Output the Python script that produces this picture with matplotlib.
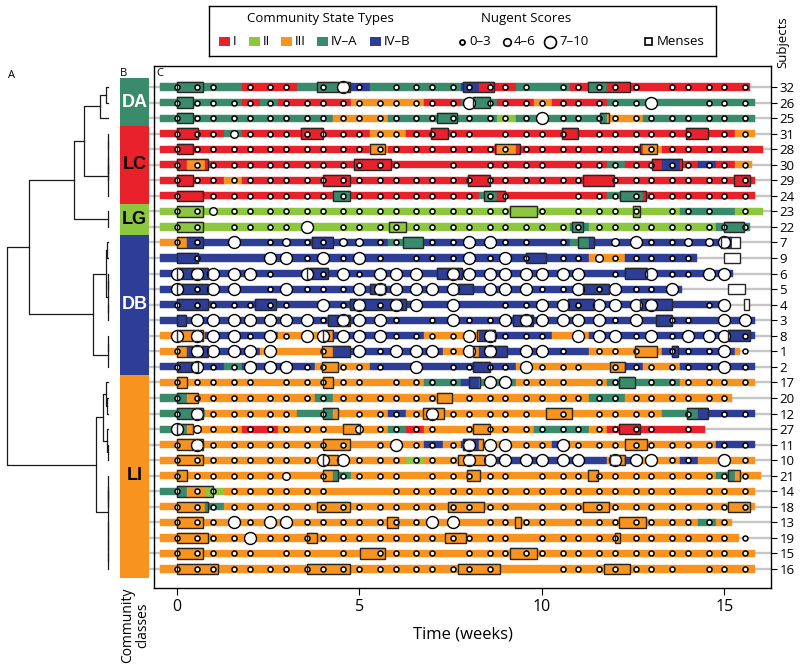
import matplotlib
matplotlib.use("Agg")
import matplotlib.pyplot as plt
from matplotlib.patches import Rectangle

plt.rcParams['font.family'] = ['Open Sans', 'DejaVu Sans']

# -------------------------------------------------------------------
# DATA
# -------------------------------------------------------------------
cst_colors = {'1': '#e8212b', '2': '#8dc63f', '3': '#f7931e', 'A': '#3a8a6c', 'B': '#2e3d96'}
cst_keys = ['1', '2', '3', 'A', 'B']
cst_names = ['I', 'II', 'III', 'IV\u2013A', 'IV\u2013B']

# twice-weekly visits (weeks)
visit_weeks = [0, 0.57, 1, 1.57, 2, 2.57, 3, 3.57, 4, 4.57, 5, 5.57, 6, 6.57, 7, 7.57,
               8, 8.57, 9, 9.57, 10, 10.57, 11, 11.57, 12, 12.57, 13, 13.57, 14, 14.57, 15, 15.57]

subjects = [32, 26, 25, 31, 28, 30, 29, 24, 23, 22, 7, 9, 6, 5, 4, 3, 8, 1, 2,
            17, 20, 12, 27, 11, 10, 21, 14, 18, 13, 19, 15, 16]

# community state type at each visit (1=I, 2=II, 3=III, A=IV-A, B=IV-B)
cst_calls = [
    "AAAA111A" "AABAAAAA" "B11AAA1A" "11111111",   # 32
    "AAAA1A11" "11333311" "AA113111" "AAAAAAAA",   # 26
    "AAAAAAAA" "A333AAAA" "AA2AAAAA" "33AAAAAA",   # 25
    "111A1111" "11133111" "11111111" "11111113",   # 31
    "11111111" "11131111" "11311111" "11311111",   # 28
    "13111111" "11111111" "11111111" "A11B1B13",   # 30
    "11131111" "11111111" "11111111" "11111111",   # 29
    "11111111" "1A111111" "1A111111" "AA111111",   # 24
    "22222222" "22222222" "22222222" "2222AAA2",   # 23
    "22222222" "22222222" "222222A2" "222222AA",   # 22
    "3BBBBBBB" "BBBBAABB" "BBBBBBAB" "BBBBBBBB",   # 7
    "BBBBBBBB" "BBBBBBBB" "BBBBBBB3" "3BBBBBBB",   # 9
    "BBBBBBBB" "BBBBBBBB" "BBBBBBBB" "BBBBBBBB",   # 6
    "BBBBBBBB" "BBBBBBBB" "BBBBBBBB" "BBBBBBBB",   # 5
    "BBBBBBBB" "BBBBBBBB" "BBBBBBBB" "BBBBBBBB",   # 4
    "BBBBBBBB" "BBBBBBBB" "BBBBBBBB" "BBBBBBBB",   # 3
    "33BBBB33" "3BBBBB33" "3BBBB33B" "BBBBBBBB",   # 8
    "3BBBB333" "3BBBBBB3" "3BBBBBB3" "333BBBB3",   # 1
    "BBBABBBB" "333BBBBB" "BBB33333" "3B33BBBB",   # 2
    "33333333" "333333AA" "BAA33333" "AAAA3333",   # 17
    "A3333333" "A3333333" "3333333A" "A3333333",   # 20
    "AA33333A" "A333B333" "33333333" "333AABBB",   # 12
    "A3331133" "3333A133" "3333AAA3" "11111111",   # 27
    "33333333" "333333B3" "B3333B33" "333333BB",   # 11
    "33333333" "33333233" "33BBBBBB" "3B33B333",   # 10
    "33333333" "3A333333" "33333333" "333333A3",   # 21
    "A3233333" "33333333" "33333333" "33333333",   # 14
    "33A33333" "33333333" "33333333" "33333333",   # 18
    "33333333" "33333333" "33333333" "33333A33",   # 13
    "33333333" "33333333" "33333333" "33333333",   # 19
    "33333333" "33333333" "33333333" "33333333",   # 15
    "33333333" "33333333" "33333333" "33333333",   # 16
]

# Nugent score at each visit: o = 0-3, m = 4-6, O = 7-10, . = no sample
nugent_calls = [
    "ooo.ooo." "oOo.oooo" "oooo.ooo" "oo.ooooo",   # 32
    "oooooooo" "oooooooo" "Oooooooo" "ooO..ooo",   # 26
    "oooooooo" "oooooooo" "ooooOooo" "oooooooo",   # 25
    "ooomoooo" "oooooooo" "o.oooo.o" "ooooo.oo",   # 31
    "oooooooo" "oooooooo" "oooooooo" "oooooooo",   # 28
    "oooooooo" "ooooo..o" ".oooo.oo" "oooooooo",   # 30
    "oooooooo" "oooooooo" "ooooooo." "oooooooo",   # 29
    "o.oooooo" "oooooooo" "ooo...oo" "oooooooo",   # 24
    "oomooooo" "oooooooo" "ooo.o.oo" "oo.ooo.o",   # 23
    "oo.ooooO" ".ooooooo" "oooooooo" "oooooooo",   # 22
    "oo.O.omo" "ommoo.oo" "OOoo.o.." "mOoommO.",   # 7
    ".o...OOo" "OoOo.ooo" "OoOo.oom" "ooooo...",   # 9
    "OOOOOo.O" "oOoOOO.O" "OOOOOOO." "o.OooOO.",   # 6
    "OoOO.oOo" "ooOOOOOO" ".OOOooOo" "OooO....",   # 5
    "ooooooo." "OoOoOO.O" "..ooOOoO" "OOO..oO.",   # 4
    ".OOOOOOO" "oOOOo.oO" "ooOOOOOO" "oO.oo.OO",   # 3
    "OOOOoOoO" "OOOOoooo" "OOooo.OO" "OoOoOOOo",   # 8
    "oOOOOO.." "o.OoOOOo" "OO.OOo.o" "oo.oooOo",   # 1
    "oOooOOOo" "oooo.O.o" "oooOooo." "ooooooOo",   # 2
    "ooooo.oo" "ooo.oooo" ".OOooo.o" "o.oooooo",   # 17
    "oooooooo" "ooooooo." "oooooooo" "ooooooo.",   # 20
    "oOooooo." "o.ooooOo" "oooo.o.o" "ooo.o.oo",   # 12
    "Omoooooo" "o.moooo." "oooooooo" "ooo.o...",   # 27
    "oOoooooo" "oo.oOooo" "OOOooOoo" "oooooooo",   # 11
    "oooooooo" "OOoooooo" "OOOOOOO." "OOOoo.Oo",   # 10
    "oooooom." "ooooo.oo" "ooo.oooo" "oooooooo",   # 21
    "oooooooo" "o...oooo" "oooooooo" "oooo.ooo",   # 14
    "oooooooo" "oooooooo" "ooo.oooo" "oooooooo",   # 18
    "oooOoOOo" "ooooooOO" ".oooo.oo" "ooooooo.",   # 13
    "ooooOooo" "oooooooo" "ooo.oooo" "oooooooo",   # 19
    "ooooo.oo" ".o.oooo." "oooooooo" "oooooooo",   # 15
    "oooooooo" "oooooooo" "oo...ooo" "oooo.ooo",   # 16
]

# last week covered by the sampling bar
bar_end = [15.71, 15.84, 15.84, 15.84, 16.05, 15.77, 15.84, 15.84, 16.05, 15.7,
           15.2, 14.25, 15.25, 13.84, 14.98, 15.84, 15.84, 15.42, 15.84,
           15.84, 15.2, 15.84, 14.48, 15.84, 15.84, 16.0, 15.84, 15.84, 15.2, 15.4, 15.84, 15.84]

# menses intervals (start week, end week)
menses = [
    [(0, 0.73), (3.85, 4.75), (7.85, 8.7), (11.28, 12.42)],
    [(0, 0.44), (8.13, 8.57)],
    [(0, 0.44), (7.12, 7.69), (11.6, 11.85)],
    [(0, 0.59), (3.42, 4.0), (6.98, 7.42), (10.55, 11.0), (13.94, 14.56)],
    [(0, 0.44), (5.29, 5.71), (8.72, 9.41), (12.7, 13.15)],
    [(0, 0.87), (4.85, 5.86), (13.01, 13.84)],
    [(0, 0.44), (4.0, 4.75), (7.97, 8.58), (11.14, 11.99), (15.27, 15.71)],
    [(0, 0.73), (4.29, 4.75), (8.43, 9.0), (12.15, 12.85)],
    [(0, 0.73), (9.13, 9.86), (12.5, 12.7)],
    [(0, 0.73), (5.82, 6.28), (10.82, 11.14), (14.98, 15.55)],
    [(0, 0.73), (3.72, 4.29), (6.2, 6.76), (11.0, 11.42), (14.9, 15.42)],
    [(0, 0.59), (9.56, 10.13), (14.98, 15.42)],
    [(0, 0.87), (3.58, 4.15), (7.12, 7.83), (12.29, 12.88)],
    [(0, 0.87), (5.29, 5.7), (7.7, 8.13), (11.14, 11.85), (15.11, 15.57)],
    [(0, 0.87), (2.15, 2.72), (4.75, 6.28), (10.72, 11.42), (12.7, 13.56), (15.55, 15.69)],
    [(0, 0.25), (4.15, 4.75), (9.2, 9.77), (13.14, 13.56)],
    [(0, 0.73), (4.0, 4.29), (8.22, 8.72), (15.11, 15.71)],
    [(0, 0.87), (3.97, 4.75), (8.13, 9.04), (12.56, 13.15), (13.56, 13.74)],
    [(0, 0.59), (3.97, 4.43), (8.13, 8.57), (11.86, 12.29)],
    [(0, 0.28), (4.0, 4.29), (8.0, 8.3), (12.13, 12.56)],
    [(0, 0.59), (7.12, 7.53)],
    [(0, 0.73), (4.0, 4.43), (6.76, 7.32), (10.13, 10.82), (13.99, 14.56)],
    [(0, 0.44), (4.57, 5.02), (8.13, 8.57), (12.13, 12.7)],
    [(0, 0.73), (4.0, 4.75), (7.85, 8.4), (12.29, 12.88)],
    [(0, 0.73), (4.0, 4.43), (7.7, 8.45), (11.88, 12.29)],
    [(0, 0.28), (4.0, 4.43), (7.95, 8.3), (11.28, 11.55), (15.11, 15.42)],
    [(0, 1.0)],
    [(0, 0.87), (3.84, 4.75), (7.43, 8.42), (11.14, 11.85), (15.11, 15.71)],
    [(0, 0.73), (5.76, 6.06), (9.27, 9.42), (12.13, 12.85)],
    [(0, 0.87), (3.58, 3.85), (7.35, 7.92), (12.0, 12.15)],
    [(0, 0.73), (5.02, 5.71), (9.13, 9.86)],
    [(0, 1.14), (3.58, 4.75), (7.7, 8.86), (11.7, 12.42)],
]

# community classes (rows, top to bottom)
class_names = ['DA', 'LC', 'LG', 'DB', 'LI']
class_first = [0, 3, 8, 10, 19]
class_last = [2, 7, 9, 18, 31]
class_cst = ['A', '1', '2', 'B', '3']
class_text = ['white', 'black', 'black', 'white', 'black']

# hierarchical clustering of the subjects: (height, left, right), leaves = row index
tree = (101.6,
        (79.0,
         (34.3,
          (24.3, (8.3, (2.3, 0, 1), 2),
                 (0.8, (0.6, (0.4, 3, 4), (0.3, 5, 6)), 7)),
          (0.4, 8, 9)),
         (15.3,
          (2.3, (1.2, 10, 11), (0.8, (0.5, 12, 13), (0.6, 14, 15))),
          (0.5, (0.3, 16, 17), 18))),
        (12.3,
         (5.3, (2.0, 19, (1.0, 20, 21)), (1.5, 22, (0.6, 23, 24))),
         (0.8, (0.5, 25, (0.3, 26, 27)), (0.6, 28, (0.4, 29, (0.2, 30, 31))))))

nugent_size = {'o': 13, 'm': 30, 'O': 74}
nugent_lw = {'o': 1.1, 'm': 1.0, 'O': 1.0}

# -------------------------------------------------------------------
# FIGURE
# -------------------------------------------------------------------
W, H = 800, 667
fig = plt.figure(figsize=(8, 6.67), dpi=100)
bottom, height = 1 - 588 / H, 522 / H
ylim = (32.22, -1.35)

# ---- panel C: sampling timelines
ax = fig.add_axes([154 / W, bottom, 617 / W, height])
xmin, xmax = -0.62, 16.28
ax.set_xlim(xmin, xmax)
ax.set_ylim(*ylim)

bar_h, box_h, bar_start = 0.46, 0.68, -0.46

for i, subj in enumerate(subjects):
    codes, calls, end = cst_calls[i], nugent_calls[i], bar_end[i]
    assert len(codes) == len(visit_weeks) and len(calls) == len(visit_weeks), subj
    ax.plot([-0.77, xmax], [i, i], color='#c6c6c6', lw=1.7, zorder=1,
            solid_capstyle='butt', clip_on=False)

    edges = [bar_start] + [(visit_weeks[k - 1] + visit_weeks[k]) / 2
                           for k in range(1, len(visit_weeks))] + [end]
    segs = []
    for k, c in enumerate(codes):
        a, b = edges[k], min(edges[k + 1], end)
        if a >= end:
            break
        if segs and segs[-1][2] == c:
            segs[-1][1] = b
        else:
            segs.append([a, b, c])
    for a, b, c in segs:
        ax.barh(i, b - a, left=a, height=bar_h, color=cst_colors[c],
                edgecolor=cst_colors[c], linewidth=0.3, zorder=2)

    for s, e in menses[i]:
        for a, b, c in segs:
            lo, hi = max(s, a), min(e, b)
            if hi > lo:
                ax.barh(i, hi - lo, left=lo, height=box_h, color=cst_colors[c],
                        edgecolor=cst_colors[c], linewidth=0.3, zorder=3)
        if e > end:
            lo = max(s, end)
            ax.barh(i, e - lo, left=lo, height=box_h, color='white', linewidth=0, zorder=3)
        ax.add_patch(Rectangle((s, i - box_h / 2), e - s, box_h, fill=False,
                               edgecolor='#262626', linewidth=1.0, zorder=5))

    for key in ['o', 'm', 'O']:
        xs = [visit_weeks[k] for k, ch in enumerate(calls) if ch == key]
        if xs:
            ax.scatter(xs, [i] * len(xs), s=nugent_size[key], facecolor='white',
                       edgecolor='black', linewidth=nugent_lw[key], zorder=4)

for sp in ax.spines.values():
    sp.set_linewidth(1.0)
ax.set_yticks(range(len(subjects)))
ax.set_yticklabels([str(s) for s in subjects])
ax.tick_params(axis='y', left=False, labelleft=False, right=True, labelright=True,
               length=4, width=0.8, labelsize=9.5, pad=2)
ax.set_xticks([0, 5, 10, 15])
ax.tick_params(axis='x', length=5, width=0.8, labelsize=11.5, pad=3)
ax.set_xlabel('Time (weeks)', fontsize=12, labelpad=8)

# ---- panel A: dendrogram
ax_a = fig.add_axes([0, bottom, 112 / W, height])
ax_a.set_xlim(108.3, -3.7)
ax_a.set_ylim(*ylim)
ax_a.axis('off')


def draw_node(node):
    if isinstance(node, int):
        return float(node), 0.0
    h, left, right = node
    yl, hl = draw_node(left)
    yr, hr = draw_node(right)
    ax_a.plot([hl, h, h, hr], [yl, yl, yr, yr], color='#1a1a1a', lw=0.9)
    return (yl + yr) / 2, h


draw_node(tree)

# ---- panel B: community classes
ax_b = fig.add_axes([120 / W, bottom, 29 / W, height])
ax_b.set_xlim(0, 1)
ax_b.set_ylim(*ylim)
ax_b.axis('off')
for name, f, l, c, tc in zip(class_names, class_first, class_last, class_cst, class_text):
    top = f - 0.58 if f == 0 else f - 0.5
    bot = l + 0.58 if l == len(subjects) - 1 else l + 0.5
    ax_b.bar(0.5, bot - top, bottom=top, width=1, color=cst_colors[c], linewidth=0)
    ax_b.text(0.5, (f + l) / 2, name, ha='center', va='center', color=tc,
              fontsize=13, fontweight='bold', family=['Liberation Sans', 'DejaVu Sans'])

fig.text(8 / W, 1 - 75 / H, 'A', fontsize=8, ha='left', va='center')
fig.text(120 / W, 1 - 73 / H, 'B', fontsize=8, ha='left', va='center')
fig.text(156 / W, 1 - 74 / H, 'C', fontsize=8, ha='left', va='center')
fig.text(135 / W, 1 - 625 / H, 'Community\nclasses', rotation=90, ha='center',
         va='center', fontsize=10, linespacing=1.05, multialignment='center')
fig.text(783 / W, 1 - 42 / H, 'Subjects', rotation=90, ha='center', va='center',
         fontsize=9.5)

# ---- legend box
lg = fig.add_axes([209 / W, 1 - 56 / H, 507 / W, 50 / H])
lg.set_xlim(209, 716)
lg.set_ylim(56, 6)
lg.set_xticks([])
lg.set_yticks([])
for sp in lg.spines.values():
    sp.set_linewidth(1.0)
row_y = 41.5
lg.text(320, 18.5, 'Community State Types', ha='center', va='center', fontsize=9.5)
lg.text(526, 18.5, 'Nugent Scores', ha='center', va='center', fontsize=9.5)
for x0, key, name in zip([219, 249, 281, 317, 370], cst_keys, cst_names):
    lg.add_patch(Rectangle((x0, row_y - 4.5), 11, 9, color=cst_colors[key], lw=0))
    lg.text(x0 + 13.5, row_y, name, ha='left', va='center', fontsize=9.5)
for x0, key, lab, dx in zip([462, 507, 550], ['o', 'm', 'O'],
                            ['0\u20133', '4\u20136', '7\u201310'], [7, 7, 9]):
    lg.scatter([x0], [row_y], s=nugent_size[key], facecolor='white', edgecolor='black',
               linewidth=nugent_lw[key] + 0.2)
    lg.text(x0 + dx, row_y, lab, ha='left', va='center', fontsize=9.5)
lg.add_patch(Rectangle((645, row_y - 3.5), 7, 7, fill=False, edgecolor='black', lw=1.2))
lg.text(657, row_y, 'Menses', ha='left', va='center', fontsize=9.5)

fig.savefig('out.png', dpi=100)
